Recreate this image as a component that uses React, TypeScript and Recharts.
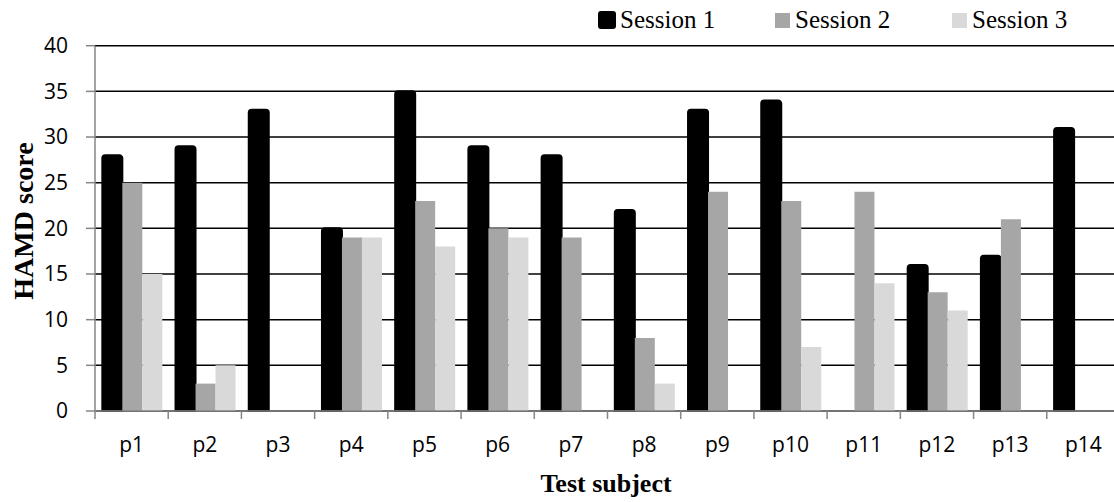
import React from 'react';
import { BarChart, Bar, XAxis, YAxis, CartesianGrid } from 'recharts';

const subjects = ['p1', 'p2', 'p3', 'p4', 'p5', 'p6', 'p7', 'p8', 'p9', 'p10', 'p11', 'p12', 'p13', 'p14'];
const session1 = [28, 29, 33, 20, 35, 29, 28, 22, 33, 34, 0, 16, 17, 31];
const session2 = [25, 3, 0, 19, 23, 20, 19, 8, 24, 23, 24, 13, 21, 0];
const session3 = [15, 5, 0, 19, 18, 19, 0, 3, 0, 7, 14, 11, 0, 0];
const scoreTicks = [0, 5, 10, 15, 20, 25, 30, 35, 40];

const series = [
  { key: 'Session 1', fill: '#000000', legendLeft: 598 },
  { key: 'Session 2', fill: '#a6a6a6', legendLeft: 775 },
  { key: 'Session 3', fill: '#d9d9d9', legendLeft: 952 },
];

const data = subjects.map((name, i) => ({
  name,
  'Session 1': session1[i],
  'Session 2': session2[i],
  'Session 3': session3[i],
}));

const CHART_W = 1120;
const CHART_H = 502;
const PLOT_LEFT = 95;
const PLOT_TOP = 45.7;
const X_AXIS_H = 91;
const PLOT_BOTTOM = CHART_H - X_AXIS_H;
const HALF_BAND = (CHART_W - PLOT_LEFT) / subjects.length / 2;

const axisGray = '#868686';
const tickFont = '"Open Sans", sans-serif';
const titleFont = '"Liberation Serif", "Times New Roman", serif';

// category labels sit in the middle, tick marks sit on the band edges
const SubjectTick = (props: any) => {
  const { x, payload } = props;
  return (
    <g>
      <line x1={x - HALF_BAND} x2={x - HALF_BAND} y1={PLOT_BOTTOM} y2={PLOT_BOTTOM + 8} stroke={axisGray} strokeWidth={1.5} />
      <text x={x} y={PLOT_BOTTOM + 41} textAnchor="middle" fontFamily={tickFont} fontSize={21} fill="#000">
        {payload.value}
      </text>
    </g>
  );
};

const App = () => {
  return (
    <div style={{ position: 'absolute', left: 0, top: 0, width: 1114, height: 502, overflow: 'hidden', background: '#fff' }}>
      {series.map((s, i) => (
        <div key={s.key} style={{ position: 'absolute', left: s.legendLeft, top: 0, height: 40 }}>
          <div
            style={{
              position: 'absolute',
              left: i === 0 ? 0 : 0,
              top: i === 0 ? 11 : 13,
              width: i === 0 ? 18 : 15,
              height: i === 0 ? 18 : 15,
              background: s.fill,
              borderRadius: i === 0 ? 3 : 0,
            }}
          />
          <span
            style={{
              position: 'absolute',
              left: i === 0 ? 22 : 20,
              top: 7,
              fontFamily: titleFont,
              fontSize: 25,
              lineHeight: 1,
              whiteSpace: 'nowrap',
              color: '#000',
            }}
          >
            {s.key}
          </span>
        </div>
      ))}
      <BarChart
        width={CHART_W}
        height={CHART_H}
        data={data}
        margin={{ top: PLOT_TOP, right: 0, bottom: 0, left: 0 }}
        barCategoryGap="10%"
        barGap={0}
      >
        <CartesianGrid vertical={false} stroke="#000" strokeWidth={1.5} />
        <XAxis
          dataKey="name"
          height={X_AXIS_H}
          tickLine={false}
          axisLine={{ stroke: axisGray, strokeWidth: 1.5 }}
          tick={<SubjectTick />}
          interval={0}
          label={{
            content: () => (
              <text x={606} y={492} textAnchor="middle" fontFamily={titleFont} fontWeight="bold" fontSize={26} fill="#000">
                Test subject
              </text>
            ),
          }}
        />
        <YAxis
          width={PLOT_LEFT}
          domain={[0, 40]}
          ticks={scoreTicks}
          interval={0}
          tickSize={9}
          tickMargin={18}
          tickLine={{ stroke: axisGray, strokeWidth: 1.5 }}
          axisLine={{ stroke: axisGray, strokeWidth: 1.5 }}
          tick={{ fontFamily: tickFont, fontSize: 21, fill: '#000' }}
          label={{
            content: () => (
              <text
                x={33}
                y={221}
                transform="rotate(-90 33 221)"
                textAnchor="middle"
                fontFamily={titleFont}
                fontWeight="bold"
                fontSize={28}
                fill="#000"
              >
                HAMD score
              </text>
            ),
          }}
        />
        <Bar dataKey="Session 1" fill="#000" stroke="#000" strokeWidth={2} radius={[3, 3, 0, 0]} isAnimationActive={false} />
        <Bar dataKey="Session 2" fill="#a6a6a6" isAnimationActive={false} />
        <Bar dataKey="Session 3" fill="#d9d9d9" isAnimationActive={false} />
      </BarChart>
    </div>
  );
};

export default App;
